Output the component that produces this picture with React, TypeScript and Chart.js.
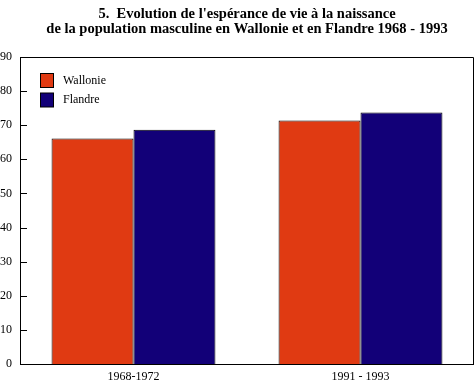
import React, { useEffect, useRef } from 'react';
import { Chart, registerables } from 'chart.js';

Chart.register(...registerables);

const categories = ['1968-1972', '1991 - 1993'];
const seriesNames = ['Wallonie', 'Flandre'];
const wallonie = [66.1, 71.4];
const flandre = [68.7, 73.7];
const seriesColors = ['#E03A12', '#120078'];
const titleLines = [
  "5.  Evolution de l'espérance de vie à la naissance",
  'de la population masculine en Wallonie et en Flandre 1968 - 1993',
];
const yMin = 0;
const yMax = 90;
const yStep = 5;

const SERIF = "'Liberation Serif', 'Times New Roman', serif";

const framePlugin = {
  id: 'frameAndTicks',
  afterDatasetsDraw(chart: any) {
    const { ctx, chartArea } = chart;
    const y = chart.scales.y;
    ctx.save();
    ctx.strokeStyle = '#000';
    ctx.lineWidth = 1;
    ctx.beginPath();
    ctx.rect(Math.round(chartArea.left) + 0.5, Math.round(chartArea.top) + 0.5,
      Math.round(chartArea.right - chartArea.left) - 1, Math.round(chartArea.bottom - chartArea.top));
    ctx.stroke();
    ctx.beginPath();
    y.ticks.forEach((t: any) => {
      const py = Math.round(y.getPixelForValue(t.value)) + 0.5;
      ctx.moveTo(chartArea.left, py);
      ctx.lineTo(chartArea.left + 7, py);
    });
    ctx.stroke();
    // legend
    const lx = chartArea.left + 20.5;
    let ly = chartArea.top + 16.5;
    ctx.font = `12px ${SERIF}`;
    ctx.textBaseline = 'middle';
    ctx.textAlign = 'left';
    chart.data.datasets.forEach((ds: any) => {
      ctx.fillStyle = ds.backgroundColor;
      ctx.fillRect(lx, ly, 13, 14);
      ctx.strokeRect(lx, ly, 13, 14);
      ctx.fillStyle = '#000';
      ctx.fillText(ds.label, lx + 22.5, ly + 7);
      ly += 19.5;
    });
    ctx.restore();
  },
};

export default function App() {
  const ref = useRef<HTMLCanvasElement>(null);
  useEffect(() => {
    if (!ref.current) return;
    const chart = new Chart(ref.current, {
      type: 'bar',
      data: {
        labels: categories,
        datasets: [
          { label: seriesNames[0], data: wallonie, backgroundColor: seriesColors[0], borderColor: '#000', borderWidth: 1 },
          { label: seriesNames[1], data: flandre, backgroundColor: seriesColors[1], borderColor: '#000', borderWidth: 1 },
        ],
      },
      options: {
        responsive: false,
        animation: false,
        datasets: { bar: { categoryPercentage: 0.722, barPercentage: 1 } },
        layout: { padding: 0 },
        plugins: {
          legend: { display: false },
          tooltip: { enabled: false },
          title: {
            display: true,
            fullSize: false,
            text: titleLines,
            color: '#000',
            font: { family: SERIF, size: 14.5, weight: 'bold', lineHeight: '15px' },
            padding: { top: 6.5, bottom: 20.5 },
          },
        },
        scales: {
          x: {
            grid: { display: false, drawTicks: false },
            border: { display: true, color: '#000' },
            ticks: { color: '#000', font: { family: SERIF, size: 12 }, padding: 6 },
            afterFit: (s: any) => { s.height = 18; },
          },
          y: {
            min: yMin,
            max: yMax,
            grid: { display: false, drawTicks: false },
            border: { display: true, color: '#000' },
            ticks: {
              stepSize: yStep,
              color: '#000',
              font: { family: SERIF, size: 12 },
              padding: 8,
              callback: (v: any) => (Number(v) % 10 === 0 ? String(v) : ''),
            },
            afterFit: (s: any) => { s.width = 20; },
          },
        },
      },
      plugins: [framePlugin],
    });
    return () => chart.destroy();
  }, []);
  return (
    <div style={{ position: 'absolute', left: 0, top: 0, width: 474, height: 382, background: '#fff' }}>
      <canvas ref={ref} width={474} height={382} />
    </div>
  );
}
